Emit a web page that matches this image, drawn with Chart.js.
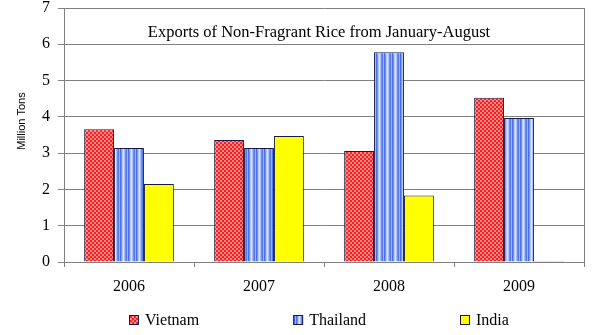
<!DOCTYPE html>
<html>
<head>
<meta charset="utf-8">
<script src="https://cdn.jsdelivr.net/npm/chart.js@4"></script>
<style>
  html, body { margin: 0; padding: 0; background: #fff; }
  #wrap { width: 602px; height: 335px; }
</style>
</head>
<body>
<div id="wrap"><canvas id="riceChart" width="602" height="335"></canvas></div>
<script>
// data
const years = ['2006', '2007', '2008', '2009'];
const vietnam = [3.66, 3.36, 3.06, 4.53];
const thailand = [3.14, 3.14, 5.78, 3.97];
const india = [2.15, 3.47, 1.83, 0.03];
const seriesNames = ['Vietnam', 'Thailand', 'India'];
const yTicks = [0, 1, 2, 3, 4, 5, 6, 7];

const chartTitle = 'Exports of Non-Fragrant Rice from January-August';
const yTitle = 'Million Tons';
const serif = '"Liberation Serif", "Times New Roman", serif';

// red checker fill
function checkerPattern() {
  const c = document.createElement('canvas');
  c.width = 4; c.height = 4;
  const g = c.getContext('2d');
  g.fillStyle = '#ff1e1e';
  g.fillRect(0, 0, 4, 4);
  g.fillStyle = '#ff8a8a';
  g.fillRect(0, 0, 2, 2);
  g.fillRect(2, 2, 2, 2);
  return g.createPattern(c, 'repeat');
}

// blue vertical stripes
function stripePattern() {
  const cols = ['#4a6fe4', '#7896f0', '#b4c6f9', '#dce5fd', '#a9bdf7', '#6f8eee', '#5579e8', '#9db3f5'];
  const c = document.createElement('canvas');
  c.width = cols.length; c.height = 2;
  const g = c.getContext('2d');
  cols.forEach((col, i) => {
    g.fillStyle = col;
    g.fillRect(i, 0, 1, 2);
  });
  return g.createPattern(c, 'repeat');
}

const fills = [checkerPattern(), stripePattern(), '#ffff00'];

// title inside plot, rotated y title, right frame line, legend
const extrasPlugin = {
  id: 'extras',
  afterDraw(chart) {
    const ctx = chart.ctx;
    const area = chart.chartArea;
    ctx.save();

    ctx.strokeStyle = '#808080';
    ctx.lineWidth = 1;
    ctx.beginPath();
    ctx.moveTo(Math.round(area.right) + 0.5, area.top);
    ctx.lineTo(Math.round(area.right) + 0.5, area.bottom);
    ctx.stroke();

    ctx.fillStyle = '#000';
    ctx.font = '16.5px ' + serif;
    ctx.textAlign = 'center';
    ctx.textBaseline = 'middle';
    ctx.fillText(chartTitle, (area.left + area.right) / 2 - 5, 33);

    ctx.save();
    ctx.translate(22, 121);
    ctx.rotate(-Math.PI / 2);
    ctx.font = '11px "Liberation Sans", Arial, sans-serif';
    ctx.fillText(yTitle, 0, 0);
    ctx.restore();

    // legend
    const box = 10, gap = 6, spacing = 94;
    ctx.font = '16px ' + serif;
    ctx.textAlign = 'left';
    const widths = chart.data.datasets.map(ds => box + gap + ctx.measureText(ds.label).width);
    const total = widths.reduce((a, b) => a + b, 0) + spacing * (widths.length - 1);
    let x = Math.round(319 - total / 2);
    const y = 320;
    chart.data.datasets.forEach((ds, i) => {
      ctx.fillStyle = ds.backgroundColor;
      ctx.fillRect(x, y - box / 2, box, box);
      ctx.strokeStyle = '#1a1a4a';
      ctx.strokeRect(x + 0.5, y - box / 2 + 0.5, box - 1, box - 1);
      ctx.fillStyle = '#000';
      ctx.fillText(ds.label, x + box + gap, y + 1);
      x += widths[i] + spacing;
    });
    ctx.restore();
  }
};

const ctx = document.getElementById('riceChart').getContext('2d');

const riceChart = new Chart(ctx, {
  type: 'bar',
  data: {
    labels: years,
    datasets: [vietnam, thailand, india].map((vals, i) => ({
      label: seriesNames[i],
      data: vals,
      backgroundColor: fills[i],
      borderColor: '#1a1a4a',
      borderWidth: 1,
      borderSkipped: 'bottom',
      categoryPercentage: 0.69,
      barPercentage: 1.0
    }))
  },
  options: {
    responsive: false,
    animation: false,
    layout: { padding: { left: 0, right: 18, top: 0, bottom: 33 } },
    plugins: {
      legend: { display: false },
      title: { display: false },
      tooltip: { enabled: false }
    },
    scales: {
      x: {
        afterFit: (scale) => { scale.height = 40; },
        grid: {
          offset: true,
          drawOnChartArea: false,
          tickLength: 5,
          color: '#808080'
        },
        border: { color: '#808080' },
        ticks: {
          color: '#000',
          padding: 12,
          font: { family: serif, size: 16, lineHeight: 1 }
        }
      },
      y: {
        min: 0,
        max: 7,
        afterFit: (scale) => {
          scale.width = 64;
          scale.paddingTop = 8;
        },
        afterBuildTicks: (scale) => { scale.ticks = yTicks.map(v => ({ value: v })); },
        grid: {
          color: '#808080',
          tickLength: 6
        },
        border: { color: '#808080' },
        ticks: {
          color: '#000',
          padding: 8,
          font: { family: serif, size: 16, lineHeight: 1 }
        }
      }
    }
  },
  plugins: [extrasPlugin]
});
</script>
</body>
</html>
